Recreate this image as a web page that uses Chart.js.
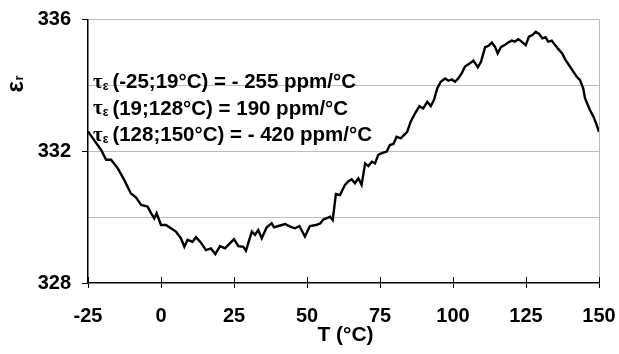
<!DOCTYPE html>
<html>
<head>
<meta charset="utf-8">
<script src="https://cdn.jsdelivr.net/npm/chart.js@4.4.0/dist/chart.umd.min.js"></script>
<style>
  html, body { margin: 0; padding: 0; background: #fff; }
  #wrap { width: 619px; height: 354px; position: relative; }
</style>
</head>
<body>
<div id="wrap"><canvas id="c"></canvas></div>
<script>
// temperature (°C) and relative permittivity
const temps = [-25, -24.6, -20.5, -18.8, -17.1, -14.8, -12.6, -10.3, -8.6, -6.8, -4.6, -3.4, -2.3, -1.5, 0, 1.7, 3.4, 5.1, 6.8, 8, 9.1, 10.8, 12, 13.7, 15.4, 17.1, 18.6,
    20.2, 21.9, 23, 25, 26.5, 28.2, 29.1, 31.1, 32.2, 33.3, 34.5, 36.2, 37.9, 38.7, 40.2, 42.5, 44.2, 45.9, 47.4, 49.3, 51, 53.1, 54.5, 55.6, 57, 57.9, 58.8, 59.9, 61.3,
    63, 64.1, 65.3, 66.4, 67.6, 68.7, 69.9, 71, 72.2, 73.3, 74.4, 75.6, 77.3, 78.4, 79.6, 80.7, 82.1, 83.2, 84.3, 85.5, 87, 88.5, 89.8, 91.2, 92.4, 93.5, 94.6, 95.8, 97.3, 98.4, 99.6, 100.7, 101.8,
    103, 104.1, 105.8, 107, 108.5, 109.6, 111, 112.1, 113.3, 114.4, 115.3, 116.4, 117.8, 118.9, 120.1, 121.2, 122.4, 123.5, 124.9, 126, 127.2, 128.3, 129.5, 130.6, 131.7, 132.6, 133.8, 134.9,
    136.1, 137.4, 138.4, 139.7, 141.2, 142.4, 143.5, 144.6, 145.2, 146.9, 148.1, 149.2, 150]
const epsR = [332.6, 332.55, 332.04, 331.74, 331.74, 331.48, 331.13, 330.72, 330.6, 330.37, 330.32, 330.12, 329.96, 330.12, 329.76, 329.76, 329.66, 329.56, 329.36, 329.1, 329.31, 329.25, 329.39, 329.22, 329.0, 329.05, 328.88,
    329.12, 329.05, 329.15, 329.33, 329.12, 329.1, 328.98, 329.56, 329.46, 329.61, 329.36, 329.69, 329.81, 329.69, 329.73, 329.79, 329.71, 329.66, 329.73, 329.41, 329.73, 329.76, 329.81, 329.93, 329.98, 330.01, 329.91, 330.7, 330.67,
    330.98, 331.08, 331.15, 331.03, 331.18, 330.98, 331.63, 331.55, 331.68, 331.63, 331.89, 331.94, 331.99, 332.19, 332.22, 332.44, 332.39, 332.49, 332.59, 332.9, 333.15, 333.37, 333.3, 333.5, 333.37, 333.56, 333.91, 334.11, 334.21, 334.14, 334.18, 334.11, 334.21,
    334.37, 334.57, 334.67, 334.75, 334.55, 334.72, 335.16, 335.2, 335.3, 335.17, 334.97, 335.16, 335.23, 335.3, 335.36, 335.33, 335.4, 335.33, 335.22, 335.48, 335.53, 335.63, 335.56, 335.43, 335.46, 335.33, 335.36, 335.23,
    335.1, 334.97, 334.79, 334.62, 334.42, 334.26, 334.16, 333.91, 333.61, 333.25, 333.05, 332.8, 332.59]
const yLabels = [328, 332, 336]
const notes = [
    '(-25;19°C) = - 255 ppm/°C',
    '(19;128°C) = 190 ppm/°C',
    '(128;150°C) = - 420 ppm/°C'
]

const FONT = 'Liberation Sans, Arial, sans-serif'
const GRAY = '#bdbdbd'

const extras = {
    id: 'extras',
    afterDraw(chart) {
        const ctx = chart.ctx
        const a = chart.chartArea
        const xs = chart.scales.x
        ctx.save()
        // x ticks crossing the axis (upper half)
        ctx.strokeStyle = '#000'
        ctx.lineWidth = 1
        xs.ticks.forEach(t => {
            const px = Math.round(xs.getPixelForValue(t.value)) + 0.5
            ctx.beginPath()
            ctx.moveTo(px, a.bottom - 6)
            ctx.lineTo(px, a.bottom)
            ctx.stroke()
        })
        // notes
        ctx.fillStyle = '#000'
        ctx.textBaseline = 'middle'
        notes.forEach((n, i) => {
            let x = a.left + 5
            const y = a.top + 63 + i * 26.5
            ctx.font = 'bold 21px "Liberation Serif", serif'
            ctx.fillText('τ', x, y)
            x += ctx.measureText('τ').width
            ctx.font = 'bold 12px ' + FONT
            ctx.fillText('ε', x, y + 4)
            x += ctx.measureText('ε').width + 4
            ctx.font = 'bold 20.5px ' + FONT
            ctx.fillText(n, x, y)
        })
        // y title
        ctx.translate(a.left - 65, a.top + 65)
        ctx.rotate(-Math.PI / 2)
        ctx.textBaseline = 'alphabetic'
        ctx.font = 'bold 24px ' + FONT
        ctx.fillText('ε', -8, 0)
        ctx.font = 'bold 13px ' + FONT
        ctx.fillText('r', 4, 0)
        ctx.restore()
        // x title
        ctx.save()
        ctx.fillStyle = '#000'
        ctx.font = 'bold 21px ' + FONT
        ctx.textAlign = 'center'
        ctx.textBaseline = 'middle'
        ctx.fillText('T (°C)', (a.left + a.right) / 2 + 2, a.bottom + 52)
        ctx.restore()
    }
}

const chart = new Chart(document.getElementById('c'), {
    type: 'line',
    plugins: [extras],
    data: {
        datasets: [{
            data: temps.map((t, i) => ({ x: t, y: epsR[i] })),
            borderColor: '#000',
            borderWidth: 2.4,
            pointRadius: 0,
            tension: 0,
            fill: false
        }]
    },
    options: {
        responsive: true,
        maintainAspectRatio: false,
        animation: false,
        layout: { padding: { top: 19.5, right: 20, left: 0, bottom: 0 } },
        plugins: {
            legend: { display: false },
            tooltip: { enabled: false }
        },
        scales: {
            x: {
                type: 'linear',
                min: -25,
                max: 150,
                afterFit: s => { s.height = 71; s.paddingLeft = 0; s.paddingRight = 0 },
                ticks: {
                    stepSize: 25,
                    color: '#000',
                    padding: 16,
                    font: { size: 20, weight: 'bold', family: FONT }
                },
                grid: {
                    color: c => c.tick && c.tick.value === 150 ? GRAY : 'rgba(0,0,0,0)',
                    tickColor: '#000',
                    tickLength: 5,
                    lineWidth: 1
                },
                border: { color: '#000', width: 1.5 }
            },
            y: {
                min: 328,
                max: 336,
                afterFit: s => { s.width = 88; s.paddingTop = 0; s.paddingBottom = 0 },
                ticks: {
                    stepSize: 2,
                    color: '#000',
                    padding: 11,
                    font: { size: 20, weight: 'bold', family: FONT },
                    callback: v => yLabels.includes(v) ? v : ''
                },
                grid: {
                    color: c => c.tick && c.tick.value > 328 ? GRAY : 'rgba(0,0,0,0)',
                    tickColor: c => c.tick && yLabels.includes(c.tick.value) ? '#000' : 'rgba(0,0,0,0)',
                    tickLength: 6,
                    lineWidth: 1
                },
                border: { color: '#000', width: 1.5 }
            }
        }
    }
})
</script>
</body>
</html>
